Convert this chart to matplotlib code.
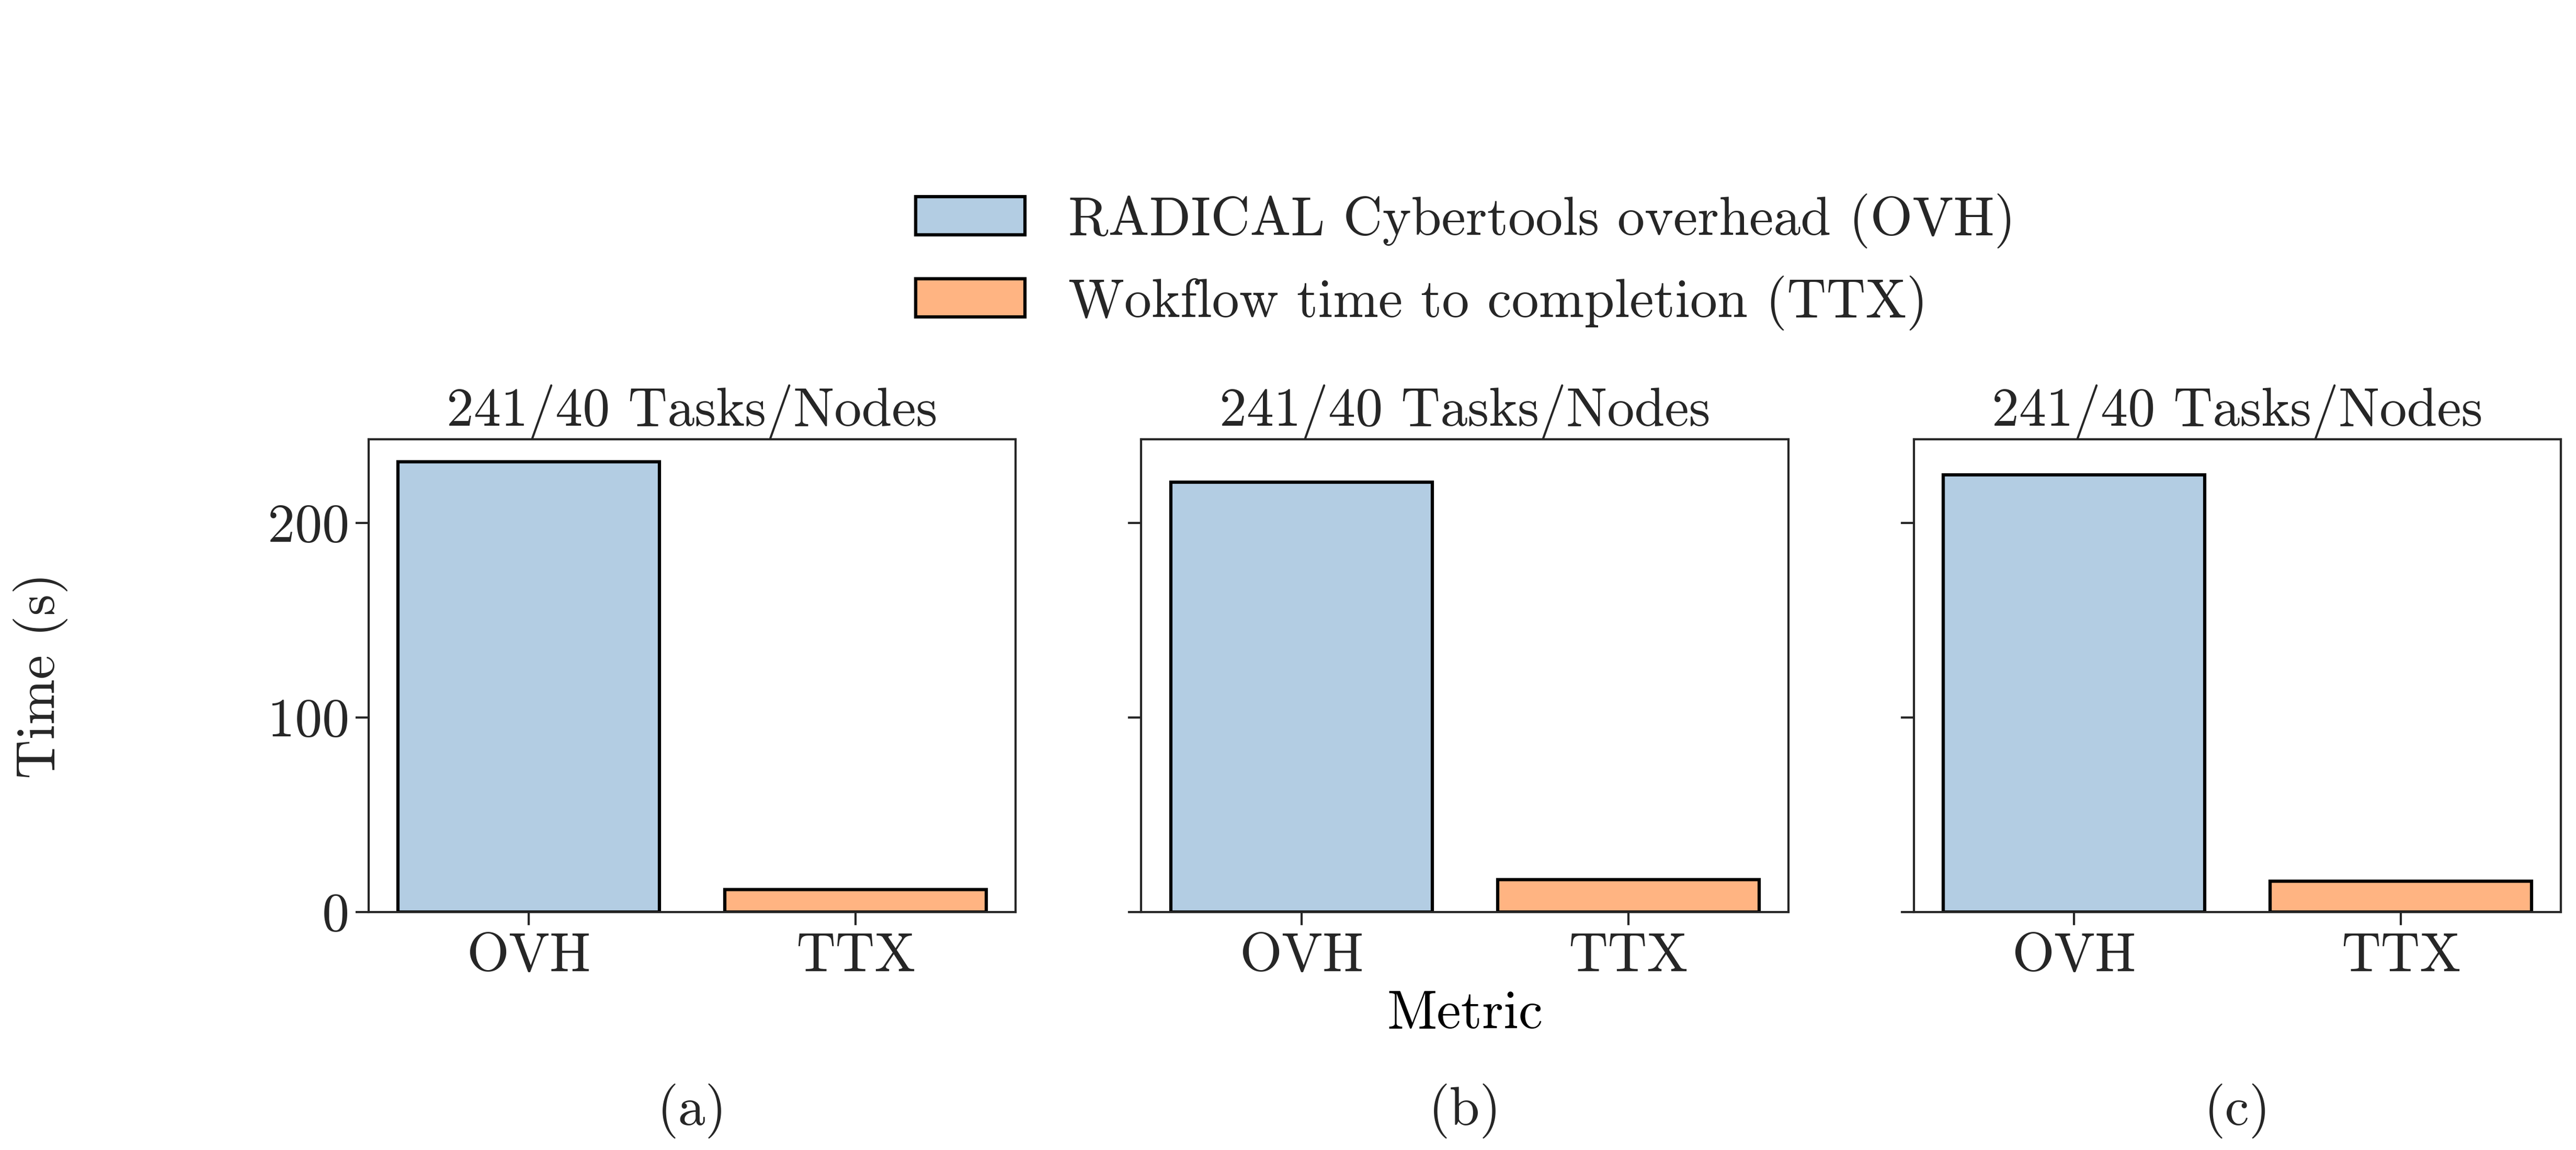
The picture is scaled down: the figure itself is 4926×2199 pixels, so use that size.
import matplotlib
matplotlib.use("Agg")
import matplotlib.pyplot as plt

# data
metrics = ["OVH", "TTX"]
ovh = [231.3, 220.9, 224.5]
ttx = [11.6, 16.6, 15.7]
titles = ["241/40 Tasks/Nodes", "241/40 Tasks/Nodes", "241/40 Tasks/Nodes"]
panel_tags = ["(a)", "(b)", "(c)"]
legend_labels = ["RADICAL Cybertools overhead (OVH)",
                 "Wokflow time to completion (TTX)"]
colors = ["#b3cde3", "#ffb482"]

plt.rcParams["font.family"] = ["cmr10", "DejaVu Serif"]
plt.rcParams["axes.formatter.use_mathtext"] = True
plt.rcParams["font.size"] = 25
plt.rcParams["axes.edgecolor"] = "#262626"
plt.rcParams["text.color"] = "#262626"
plt.rcParams["xtick.color"] = "#262626"
plt.rcParams["ytick.color"] = "#262626"
plt.rcParams["axes.linewidth"] = 1.0
plt.rcParams["xtick.major.size"] = 6
plt.rcParams["ytick.major.size"] = 6
plt.rcParams["xtick.major.width"] = 1.0
plt.rcParams["ytick.major.width"] = 1.0

fig, axes = plt.subplots(1, 3, sharey=True, figsize=(16.42, 7.33), dpi=300)
fig.subplots_adjust(left=0.1431, right=0.9942, bottom=0.207, top=0.618, wspace=0.194)

for i, ax in enumerate(axes):
    vals = [ovh[i], ttx[i]]
    bars = ax.bar(metrics, vals, width=0.8, color=colors, edgecolor="black", linewidth=1.5)
    ax.set_title(titles[i], fontsize=25)
    ax.tick_params(labelsize=25)
    ax.set_yticks([0, 100, 200])

axes[1].set_xlabel("Metric", fontsize=25)

fig.text(0.0158, 0.4125, "Time (s)", rotation=90, ha="center", va="center", fontsize=25)

for ax, tag in zip(axes, panel_tags):
    pos = ax.get_position()
    fig.text((pos.x0 + pos.x1) / 2, 0.034, tag, ha="center", va="center", fontsize=25)

handles = axes[0].patches[:2]
fig.legend(handles, legend_labels, loc="center", bbox_to_anchor=(0.569, 0.772),
           frameon=False, fontsize=25)

fig.savefig("out.png", dpi=300)
